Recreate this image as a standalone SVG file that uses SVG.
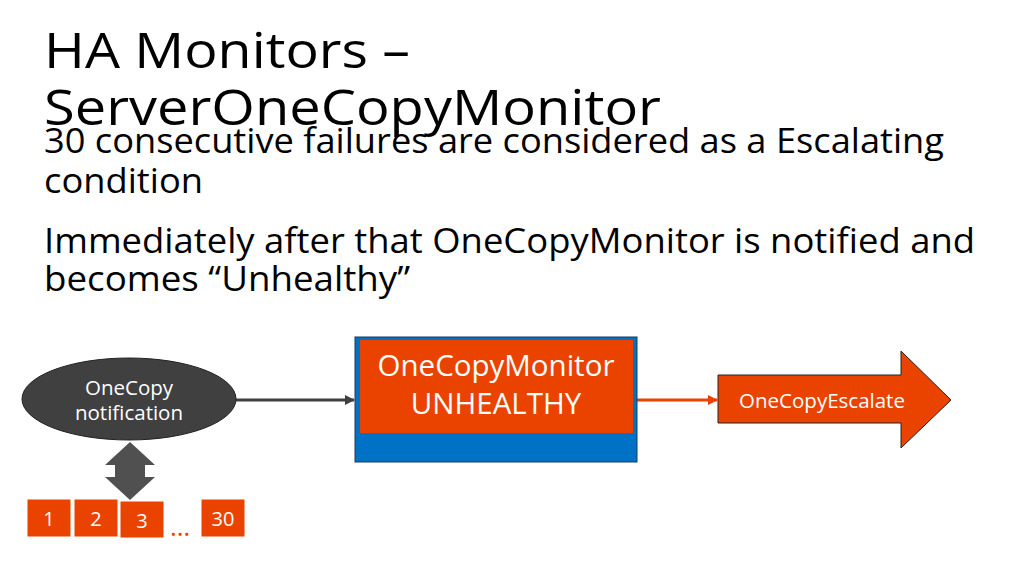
<svg xmlns="http://www.w3.org/2000/svg" width="1024" height="575" viewBox="0 0 1024 575">
<defs>
<style>
.t{font-family:"Open Sans","Noto Sans","Liberation Sans",sans-serif;fill:#000}
.w{font-family:"Open Sans","Noto Sans","Liberation Sans",sans-serif;fill:#fff;text-anchor:middle}
.or{fill:#EA4300;stroke:#fff;stroke-width:1}
</style>
<marker id="ag" markerWidth="10" markerHeight="10" refX="9" refY="5" orient="auto" markerUnits="userSpaceOnUse">
<path d="M0,0 L10,5 L0,10 z" fill="#404040"/>
</marker>
<marker id="ao" markerWidth="10" markerHeight="10" refX="9" refY="5" orient="auto" markerUnits="userSpaceOnUse">
<path d="M0,0 L10,5 L0,10 z" fill="#EA4300"/>
</marker>
</defs>
<rect width="1024" height="575" fill="#fff"/>
<g id="title">
<text class="t" x="44" y="68" font-size="49" textLength="366" lengthAdjust="spacingAndGlyphs">HA Monitors –</text>
<text class="t" x="44" y="125" font-size="49" textLength="617" lengthAdjust="spacingAndGlyphs">ServerOneCopyMonitor</text>
</g>
<g id="body">
<text class="t" x="44" y="153" font-size="35" textLength="900" lengthAdjust="spacingAndGlyphs">30 consecutive failures are considered as a Escalating</text>
<text class="t" x="44" y="193" font-size="35" textLength="159" lengthAdjust="spacingAndGlyphs">condition</text>
<text class="t" x="44" y="253" font-size="35" textLength="931" lengthAdjust="spacingAndGlyphs">Immediately after that OneCopyMonitor is notified and</text>
<text class="t" x="44" y="291" font-size="35" textLength="366" lengthAdjust="spacingAndGlyphs">becomes “Unhealthy”</text>
</g>
<g id="connectors">
<line x1="236" y1="400" x2="354" y2="400" stroke="#404040" stroke-width="3" marker-end="url(#ag)"/>
<line x1="637" y1="400" x2="717" y2="400" stroke="#EA4300" stroke-width="3" marker-end="url(#ao)"/>
<path id="dbl" d="M130,442 L155,465 L145,465 L145,477 L155,477 L130,500 L105,477 L115,477 L115,465 L105,465 z" fill="#505050"/>
</g>
<g id="notification">
<ellipse cx="129" cy="399" rx="107" ry="41" fill="#404040" stroke="#222" stroke-width="1"/>
<text class="w" x="129" y="395" font-size="20.5">OneCopy</text>
<text class="w" x="129" y="420" font-size="20.5">notification</text>
</g>
<g id="monitor">
<rect x="355" y="337" width="282" height="125" fill="#0072C6" stroke="#1a3a5a" stroke-width="1"/>
<rect x="360" y="340" width="273" height="93" fill="#EA4300"/>
<text class="w" x="496" y="376" font-size="29.5">OneCopyMonitor</text>
<text class="w" x="496" y="414" font-size="29.5">UNHEALTHY</text>
</g>
<g id="escalate">
<path d="M718,375 L901,375 L901,351 L951,400 L901,448 L901,423 L718,423 z" fill="#EA4300" stroke="#222" stroke-width="1"/>
<text class="w" x="822" y="408" font-size="20.5">OneCopyEscalate</text>
</g>
<g id="c1"><rect class="or" x="27" y="499" width="44" height="38"/><text class="w" x="49" y="526" font-size="20">1</text></g>
<g id="c2"><rect class="or" x="74" y="499" width="44" height="38"/><text class="w" x="96" y="526" font-size="20">2</text></g>
<g id="c3"><rect class="or" x="120" y="501" width="44" height="37"/><text class="w" x="142" y="528" font-size="20">3</text></g>
<g id="dots"><text x="180" y="536" font-size="26" font-family="Open Sans,sans-serif" fill="#EA4300" text-anchor="middle">…</text></g>
<g id="c30"><rect class="or" x="201" y="499" width="44" height="38"/><text class="w" x="223" y="526" font-size="20">30</text></g>
</svg>
